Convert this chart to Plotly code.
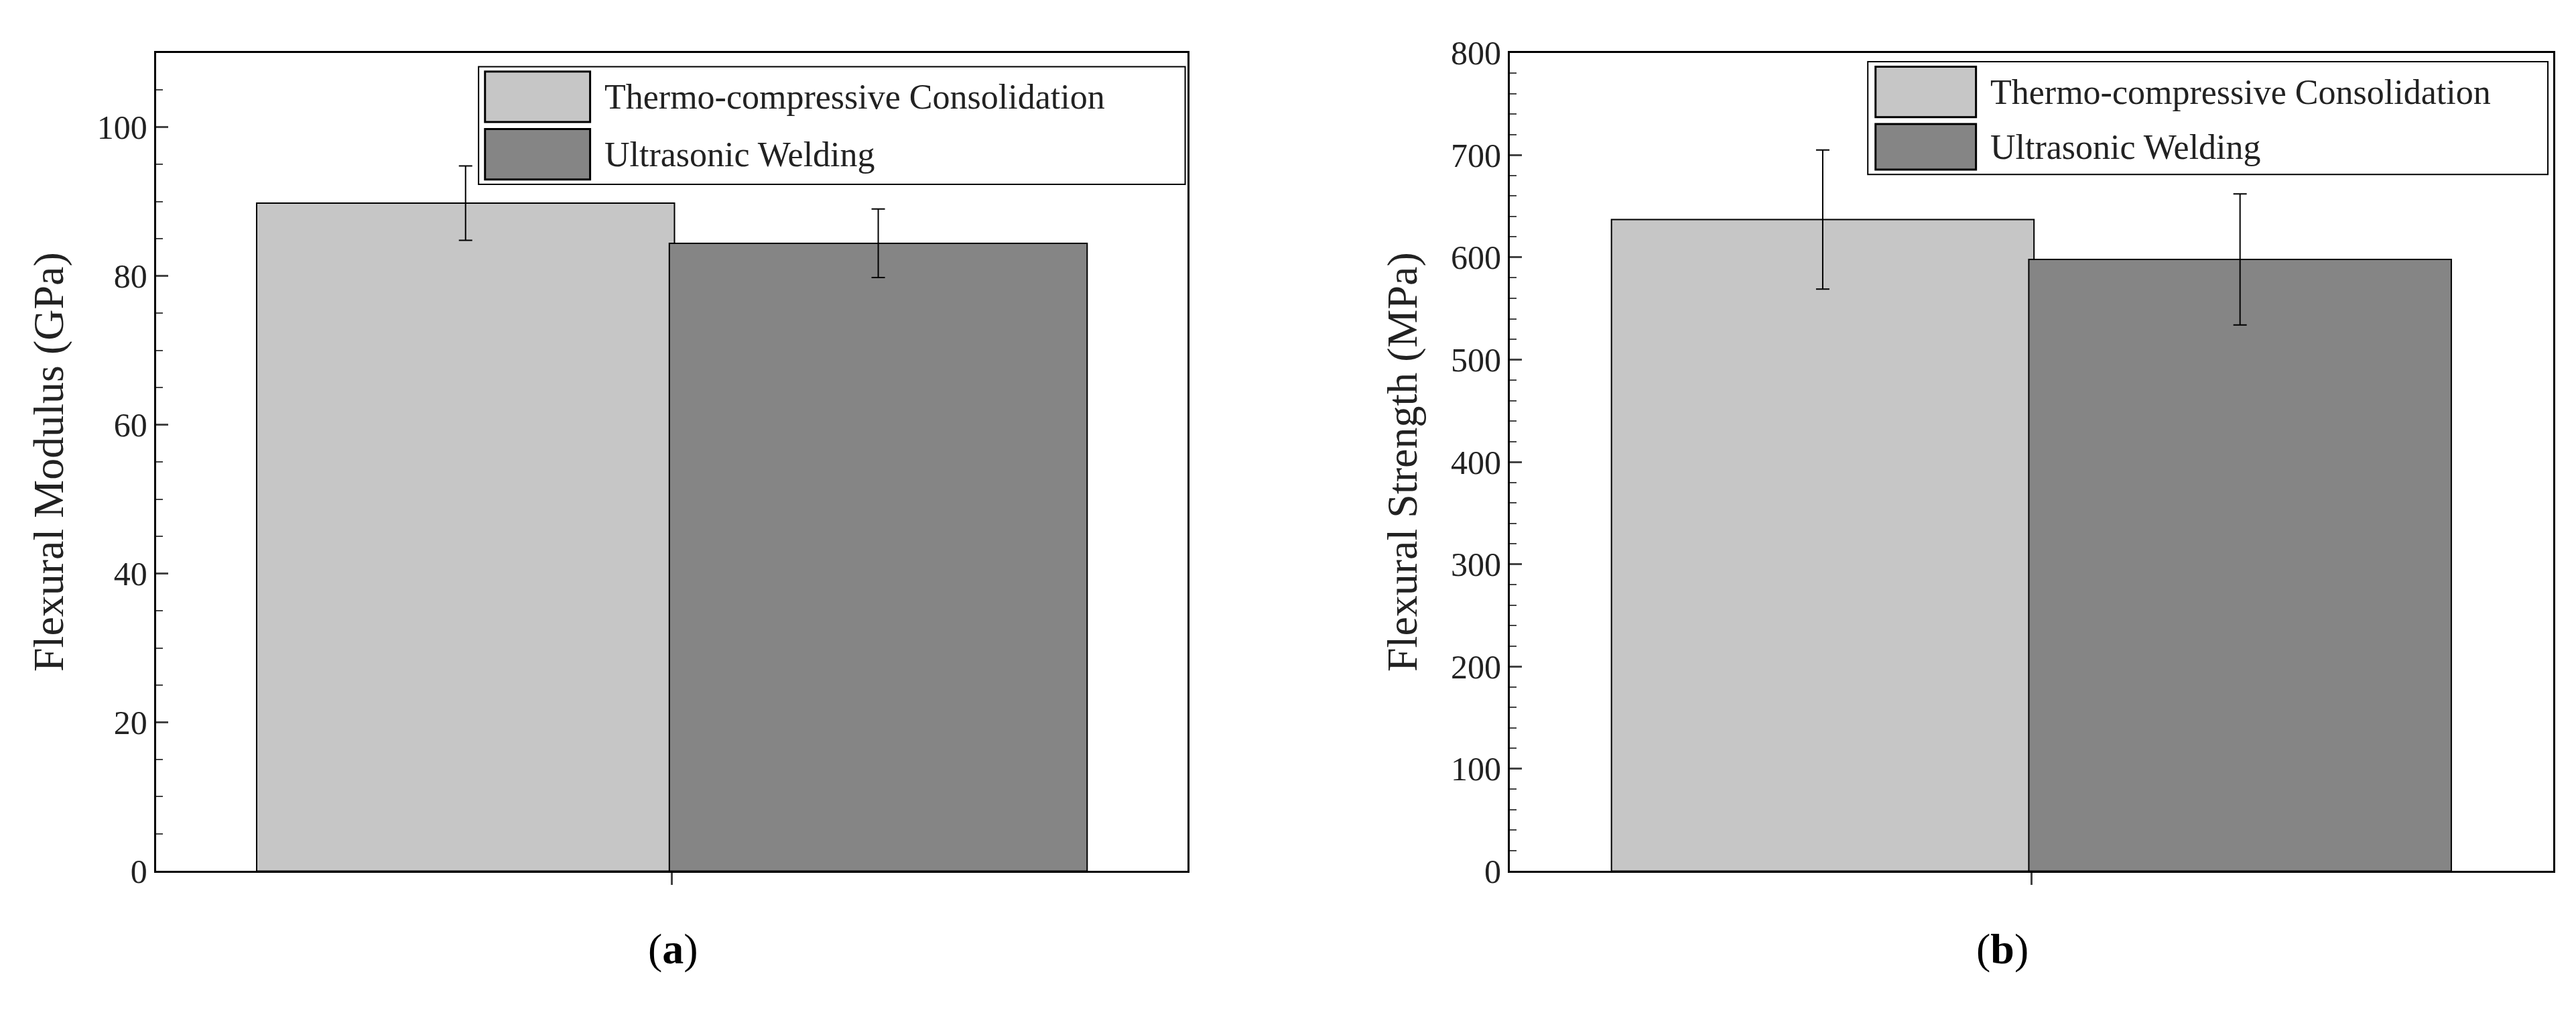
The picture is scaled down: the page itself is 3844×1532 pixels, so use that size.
import plotly.graph_objects as go

series = ["Thermo-compressive Consolidation", "Ultrasonic Welding"]
colors = ["#c6c6c6", "#858585"]
modulus = [89.8, 84.4]
modulus_err = [5.0, 4.6]
strength = [637, 598]
strength_err = [68, 64]
xpos = [-0.2, 0.2]

fig = go.Figure()
for i, name in enumerate(series):
    fig.add_trace(go.Bar(x=[xpos[i]], y=[modulus[i]], width=0.405, name=name,
                         marker=dict(color=colors[i], line=dict(color="black", width=2)),
                         error_y=dict(type="data", array=[modulus_err[i]], color="black", thickness=2, width=10),
                         xaxis="x", yaxis="y"))
for i, name in enumerate(series):
    fig.add_trace(go.Bar(x=[xpos[i]], y=[strength[i]], width=0.405, name=name,
                         marker=dict(color=colors[i], line=dict(color="black", width=2)),
                         error_y=dict(type="data", array=[strength_err[i]], color="black", thickness=2, width=10),
                         xaxis="x2", yaxis="y2"))

font = "Liberation Serif"
axcommon = dict(showline=True, linecolor="black", linewidth=3, mirror=True, showgrid=False, zeroline=False)
xax = dict(**axcommon, range=[-0.5, 0.5], tickvals=[0], ticktext=[""], ticks="outside", ticklen=18, tickwidth=3)
yax = dict(**axcommon, ticks="inside", ticklen=18, tickwidth=3,
           minor=dict(ticks="inside", ticklen=10, tickwidth=2),
           tickfont=dict(family=font, size=50, color="#222"),
           title_font=dict(family=font, size=64, color="#222"))

shapes = []
annotations = []
# manual legends (paper coordinates)
legends = [
    dict(box=(0.1837, 0.458, 0.838, 0.957), sx=(0.1862, 0.227), sy=[(0.901, 0.952), (0.843, 0.894)], tx=0.232),
    dict(box=(0.723, 0.987, 0.848, 0.962), sx=(0.726, 0.765), sy=[(0.906, 0.957), (0.853, 0.899)], tx=0.770),
]
for lg in legends:
    x0, x1, y0, y1 = lg["box"]
    shapes.append(dict(type="rect", xref="paper", yref="paper", x0=x0, x1=x1, y0=y0, y1=y1,
                       fillcolor="white", line=dict(color="black", width=2), layer="above"))
    for i, name in enumerate(series):
        a, b = lg["sy"][i]
        shapes.append(dict(type="rect", xref="paper", yref="paper", x0=lg["sx"][0], x1=lg["sx"][1], y0=a, y1=b,
                           fillcolor=colors[i], line=dict(color="black", width=3), layer="above"))
        annotations.append(dict(text=name, x=lg["tx"], y=(a + b) / 2, xref="paper", yref="paper",
                                xanchor="left", yanchor="middle", showarrow=False,
                                font=dict(family=font, size=52, color="#222")))
annotations += [
    dict(text="(<b>a</b>)", x=0.249, y=0.04, xref="paper", yref="paper", showarrow=False,
         font=dict(family=font, size=64, color="black")),
    dict(text="(<b>b</b>)", x=0.786, y=0.04, xref="paper", yref="paper", showarrow=False,
         font=dict(family=font, size=64, color="black")),
]

fig.update_layout(
    width=3844, height=1532, plot_bgcolor="white", paper_bgcolor="white",
    margin=dict(l=0, r=0, t=0, b=0), showlegend=False, barmode="overlay",
    xaxis=dict(**xax, domain=[0.0585, 0.459], anchor="y"),
    yaxis=dict(**yax, domain=[0.144, 0.971], range=[0, 110], dtick=20,
               title=dict(text="Flexural Modulus (GPa)", standoff=30), anchor="x"),
    xaxis2=dict(**xax, domain=[0.584, 0.989], anchor="y2"),
    yaxis2=dict(**yax, domain=[0.144, 0.971], range=[0, 800], dtick=100,
                title=dict(text="Flexural Strength (MPa)", standoff=30), anchor="x2"),
    shapes=shapes, annotations=annotations,
)
fig.write_html("out.html")
